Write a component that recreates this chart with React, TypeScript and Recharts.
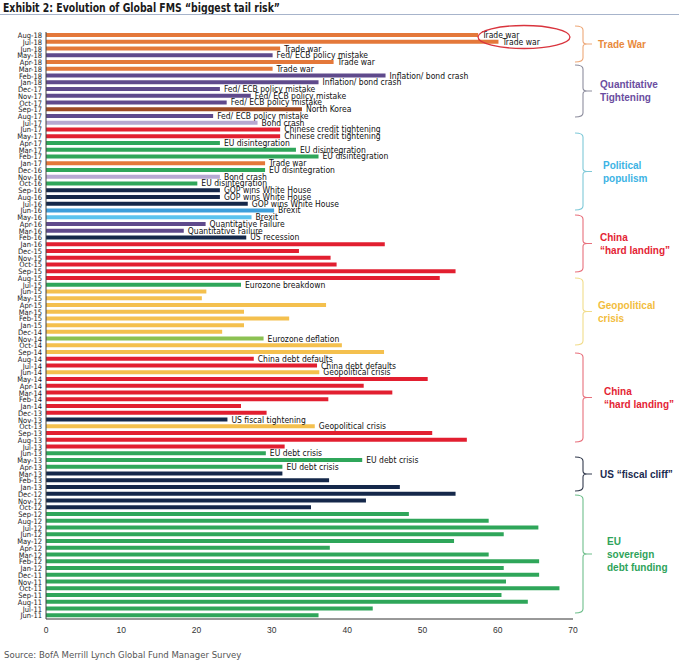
import React from "react";
import { BarChart, Bar, XAxis, YAxis, Cell, LabelList } from "recharts";

const months = [
  "Aug-18", "Jul-18", "Jun-18", "May-18", "Apr-18", "Mar-18", "Feb-18", "Jan-18",
  "Dec-17", "Nov-17", "Oct-17", "Sep-17", "Aug-17", "Jul-17", "Jun-17", "May-17", "Apr-17", "Mar-17", "Feb-17", "Jan-17",
  "Dec-16", "Nov-16", "Oct-16", "Sep-16", "Aug-16", "Jul-16", "Jun-16", "May-16", "Apr-16", "Mar-16", "Feb-16", "Jan-16",
  "Dec-15", "Nov-15", "Oct-15", "Sep-15", "Aug-15", "Jul-15", "Jun-15", "May-15", "Apr-15", "Mar-15", "Feb-15", "Jan-15",
  "Dec-14", "Nov-14", "Oct-14", "Sep-14", "Aug-14", "Jul-14", "Jun-14", "May-14", "Apr-14", "Mar-14", "Feb-14", "Jan-14",
  "Dec-13", "Nov-13", "Oct-13", "Sep-13", "Aug-13", "Jul-13", "Jun-13", "May-13", "Apr-13", "Mar-13", "Feb-13", "Jan-13",
  "Dec-12", "Nov-12", "Oct-12", "Sep-12", "Aug-12", "Jul-12", "Jun-12", "May-12", "Apr-12", "Mar-12", "Feb-12", "Jan-12",
  "Dec-11", "Nov-11", "Oct-11", "Sep-11", "Aug-11", "Jul-11", "Jun-11",
];

const shares = [
  57.4, 60.1, 31.1, 30.1, 38.2, 30.1, 45.1, 36.2,
  23.1, 27.2, 24.0, 34.0, 22.2, 28.1, 31.1, 31.1, 23.1, 33.2, 36.2, 29.1,
  29.1, 23.1, 20.1, 23.1, 23.1, 26.8, 30.3, 27.3, 21.2, 18.3, 26.6, 45.0,
  33.6, 37.8, 38.6, 54.4, 52.3, 25.9, 21.3, 20.7, 37.2, 26.3, 32.3, 26.3,
  23.4, 28.9, 39.3, 44.9, 27.6, 36.0, 36.3, 50.7, 42.2, 46.0, 37.5, 25.9,
  29.3, 24.1, 35.7, 51.3, 55.9, 31.7, 29.2, 42.0, 31.4, 31.4, 37.6, 47.0,
  54.4, 42.5, 35.2, 48.2, 58.8, 65.4, 60.8, 54.2, 37.7, 58.8, 65.5, 60.8,
  65.5, 61.1, 68.2, 60.5, 64.0, 43.4, 36.2,
];

const riskLabels = [
  "Trade war", "Trade war", "Trade war", "Fed/ ECB policy mistake", "Trade war", "Trade war", "Inflation/ bond crash", "Inflation/ bond crash",
  "Fed/ ECB policy mistake", "Fed/ ECB policy mistake", "Fed/ ECB policy mistake", "North Korea", "Fed/ ECB policy mistake", "Bond crash",
  "Chinese credit tightening", "Chinese credit tightening", "EU disintegration", "EU disintegration", "EU disintegration", "Trade war",
  "EU disintegration", "Bond crash", "EU disintegration", "GOP wins White House", "GOP wins White House", "GOP wins White House",
  "Brexit", "Brexit", "Quantitative Failure", "Quantitative Failure", "US recession", "",
  "", "", "", "", "", "Eurozone breakdown", "", "", "", "", "", "",
  "", "Eurozone deflation", "", "", "China debt defaults", "China debt defaults", "Geopolitical crisis", "", "", "", "", "",
  "", "US fiscal tightening", "Geopolitical crisis", "", "", "", "EU debt crisis", "EU debt crisis", "EU debt crisis", "", "", "",
  "", "", "", "", "", "", "", "", "", "", "", "",
  "", "", "", "", "", "", "",
];

const riskTypes = [
  "trade", "trade", "trade", "policy", "trade", "trade", "policy", "policy",
  "policy", "policy", "policy", "korea", "policy", "bond", "china", "china", "eu", "eu", "eu", "trade",
  "eu", "bond", "eu", "us", "us", "us", "brexit", "brexitLight", "policy", "policy", "us", "china",
  "china", "china", "china", "china", "china", "eu", "geo", "geo", "geo", "geo", "geo", "geo",
  "geo", "deflation", "geo", "geo", "china", "china", "geo", "china", "china", "china", "china", "china",
  "china", "us", "geo", "china", "china", "china", "eu", "eu", "eu", "us", "us", "us",
  "us", "us", "us", "eu", "eu", "eu", "eu", "eu", "eu", "eu", "eu", "eu",
  "eu", "eu", "eu", "eu", "eu", "eu", "eu",
];

const xTicks = [0, 10, 20, 30, 40, 50, 60, 70];

const palette: Record<string, string> = {
  trade: "#E4783A",
  policy: "#5F4A8C",
  korea: "#9E4A22",
  bond: "#B7A9D2",
  china: "#E21F30",
  eu: "#2FA65A",
  us: "#15284A",
  brexit: "#3E9FDB",
  brexitLight: "#5CC3EE",
  geo: "#F4C04E",
  deflation: "#8CC152",
};

const data = months.map((m, i) => ({
  month: m,
  value: shares[i],
  label: riskLabels[i],
  type: riskTypes[i],
}));

const narrow = "'Liberation Sans Narrow', 'DejaVu Sans Condensed', 'Arial Narrow', 'Liberation Sans', Arial, sans-serif";
const sans = "'Liberation Sans', Arial, 'DejaVu Sans', sans-serif";

const brackets = [
  { top: 26, bottom: 62, color: "#E8893C", lineColor: "#EDA878", lines: ["Trade War"], tx: 598 },
  { top: 65, bottom: 117, color: "#6B4DA0", lineColor: "#8E8E9E", lines: ["Quantitative", "Tightening"], tx: 600 },
  { top: 133, bottom: 210, color: "#3CB3E4", lineColor: "#7FC9D8", lines: ["Political", "populism"], tx: 603 },
  { top: 215, bottom: 272, color: "#E42434", lineColor: "#E8707C", lines: ["China", "\u201chard landing\u201d"], tx: 600 },
  { top: 278, bottom: 345, color: "#F2BD3D", lineColor: "#F1DC8A", lines: ["Geopolitical", "crisis"], tx: 598 },
  { top: 353, bottom: 442, color: "#E42434", lineColor: "#E8707C", lines: ["China", "\u201chard landing\u201d"], tx: 604 },
  { top: 457, bottom: 491, color: "#1A2A50", lineColor: "#333B4E", lines: ["US \u201cfiscal cliff\u201d"], tx: 600 },
  { top: 495, bottom: 613, color: "#2EA35A", lineColor: "#6FBF8C", lines: ["EU", "sovereign", "debt funding"], tx: 607 },
];

function Overlay() {
  return (
    <svg
      width={679}
      height={665}
      style={{ position: "absolute", left: 0, top: 0, pointerEvents: "none" }}
    >
      <text x={3} y={12} fontFamily={narrow} fontWeight="bold" fontSize={13} fill="#1a1a1a" textLength={277} lengthAdjust="spacingAndGlyphs">
        Exhibit 2: Evolution of Global FMS {"\u201cbiggest tail risk\u201d"}
      </text>
      <line x1={0} y1={14.5} x2={679} y2={14.5} stroke="#A7B4CB" strokeWidth={1.2} />
      <ellipse cx={524} cy={37} rx={46} ry={11.5} fill="none" stroke="#D9343D" strokeWidth={1.3} />
      {brackets.map((b, i) => {
        const mid = (b.top + b.bottom) / 2;
        const vx = 583;
        const lx = 575;
        const d = `M${lx},${b.top} Q${vx},${b.top} ${vx},${b.top + 4} L${vx},${mid - 3} Q${vx},${mid} ${vx + 4},${mid} L${vx + 9},${mid} M${vx + 4},${mid} Q${vx},${mid} ${vx},${mid + 3} L${vx},${b.bottom - 4} Q${vx},${b.bottom} ${lx},${b.bottom}`;
        const n = b.lines.length;
        const lh = 13;
        const startY = mid - ((n - 1) * lh) / 2 + 3.5;
        return (
          <g key={i}>
            <path d={d} fill="none" stroke={b.lineColor} strokeWidth={1.1} />
            {b.lines.map((t, j) => (
              <text key={j} x={b.tx} y={startY + j * lh} fontFamily={sans} fontWeight="bold" fontSize={10} fill={b.color}>
                {t}
              </text>
            ))}
          </g>
        );
      })}
      <text x={4} y={658} fontFamily={narrow} fontSize={9.5} fill="#555">
        Source: BofA Merrill Lynch Global Fund Manager Survey
      </text>
    </svg>
  );
}

export default function App() {
  return (
    <div style={{ position: "fixed", left: 0, top: 0, width: 679, height: 665, background: "#fff" }}>
      <BarChart
        width={679}
        height={665}
        data={data}
        layout="vertical"
        margin={{ top: 32, right: 106, bottom: 26, left: 4 }}
        barSize={4}
      >
        <XAxis
          type="number"
          domain={[0, 70]}
          ticks={xTicks}
          interval={0}
          height={20}
          tickLine={false}
          axisLine={{ stroke: "#333" }}
          tick={{ fontSize: 8.5, fill: "#333", fontFamily: sans }}
        />
        <YAxis
          type="category"
          dataKey="month"
          width={42}
          interval={0}
          tickLine={false}
          tickSize={2}
          tickMargin={2}
          axisLine={{ stroke: "#444" }}
          tick={{ fontSize: 7.5, fill: "#222", fontFamily: narrow }}
        />
        <Bar dataKey="value" isAnimationActive={false}>
          {data.map((d, i) => (
            <Cell key={i} fill={palette[d.type]} />
          ))}
          <LabelList
            dataKey="label"
            position="right"
            offset={4}
            style={{ fontSize: 8.5, fill: "#111", fontFamily: narrow }}
          />
        </Bar>
      </BarChart>
      <Overlay />
    </div>
  );
}
